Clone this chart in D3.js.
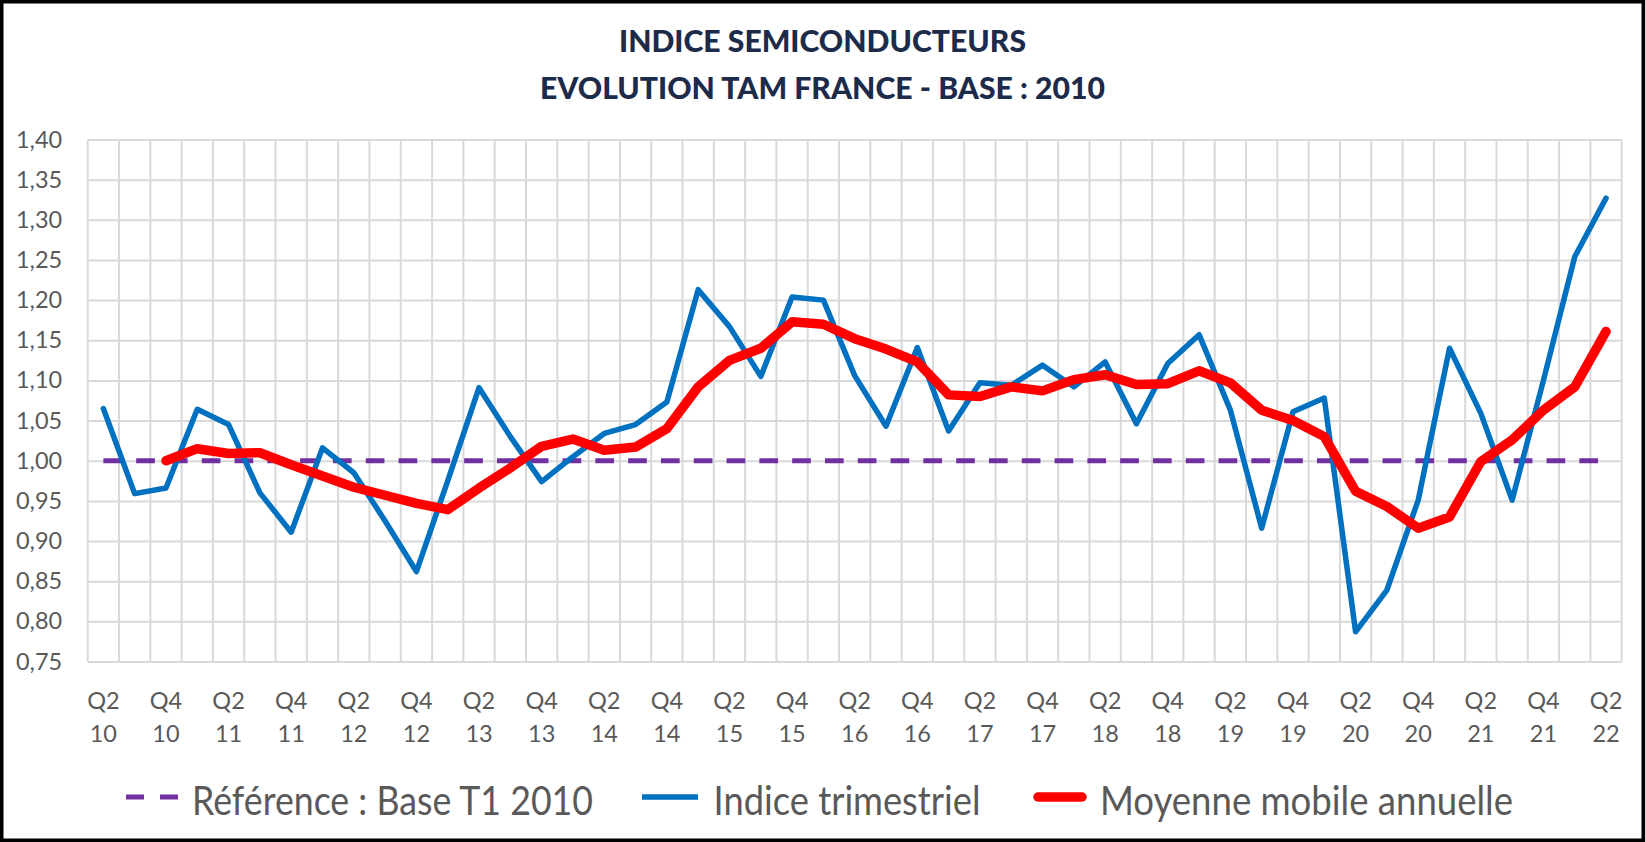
<!DOCTYPE html>
<html>
<head>
<meta charset="utf-8">
<script src="https://cdn.jsdelivr.net/npm/d3@7"></script>
<style>
  body { margin: 0; background: #fff; }
  svg { display: block; }
</style>
</head>
<body>
<div id="chart"></div>
<script>
// quarters Q2 2010 -> Q2 2022
const quarters = [
  "Q2 10", "Q3 10", "Q4 10",
  "Q1 11", "Q2 11", "Q3 11", "Q4 11",
  "Q1 12", "Q2 12", "Q3 12", "Q4 12",
  "Q1 13", "Q2 13", "Q3 13", "Q4 13",
  "Q1 14", "Q2 14", "Q3 14", "Q4 14",
  "Q1 15", "Q2 15", "Q3 15", "Q4 15",
  "Q1 16", "Q2 16", "Q3 16", "Q4 16",
  "Q1 17", "Q2 17", "Q3 17", "Q4 17",
  "Q1 18", "Q2 18", "Q3 18", "Q4 18",
  "Q1 19", "Q2 19", "Q3 19", "Q4 19",
  "Q1 20", "Q2 20", "Q3 20", "Q4 20",
  "Q1 21", "Q2 21", "Q3 21", "Q4 21",
  "Q1 22", "Q2 22"
];

const indiceTrimestriel = [
  1.065, 0.959, 0.966,
  1.064, 1.045, 0.960, 0.911,
  1.016, 0.985, 0.925, 0.862,
  0.975, 1.091, 1.030, 0.974,
  1.005, 1.034, 1.045, 1.073,
  1.213, 1.167, 1.105, 1.204,
  1.200, 1.106, 1.043, 1.141,
  1.037, 1.097, 1.094, 1.119,
  1.092, 1.123, 1.046, 1.121,
  1.157, 1.063, 0.916, 1.061,
  1.078, 0.787, 0.839, 0.951,
  1.140, 1.059, 0.951, 1.100,
  1.254, 1.327
];

// annual moving average starts at Q4 10
const moyenneMobile = [
  null, null, 1.000,
  1.015, 1.009, 1.010, 0.995,
  0.981, 0.967, 0.957, 0.947,
  0.939, 0.966, 0.991, 1.018,
  1.027, 1.013, 1.017, 1.040,
  1.092, 1.125, 1.140, 1.173,
  1.170, 1.152, 1.139, 1.123,
  1.082, 1.080, 1.092, 1.087,
  1.101, 1.107, 1.095, 1.096,
  1.112, 1.097, 1.063, 1.050,
  1.030, 0.962, 0.943, 0.916,
  0.930, 0.999, 1.026, 1.063,
  1.092, 1.161
];

const referenceLevel = 1.00;

const yTicks = [0.75, 0.80, 0.85, 0.90, 0.95, 1.00, 1.05, 1.10, 1.15, 1.20, 1.25, 1.30, 1.35, 1.40];

const titleLines = ["INDICE SEMICONDUCTEURS", "EVOLUTION TAM FRANCE - BASE : 2010"];
const legendLabels = ["Référence : Base T1 2010", "Indice trimestriel", "Moyenne mobile annuelle"];

const width = 1645, height = 842;
const plotLeft = 87.7, plotRight = 1621.7, plotTop = 139.5, plotBottom = 661.5;
const grey = "#595959";
const font = "Lato, 'Open Sans', sans-serif";

const svg = d3.select("#chart").append("svg")
  .attr("width", width)
  .attr("height", height);

svg.append("rect")
  .attr("width", width)
  .attr("height", height)
  .attr("fill", "#fff");

const x = d3.scaleBand().domain(quarters).range([plotLeft, plotRight]).padding(0);
const y = d3.scaleLinear().domain([0.75, 1.40]).range([plotBottom, plotTop]);
const cx = d => x(d) + x.bandwidth() / 2;

const fr = d3.formatLocale({decimal: ",", thousands: " ", grouping: [3], currency: ["", " €"]});
const fmt = fr.format(".2f");

// horizontal grid
const hgrid = svg.append("g")
  .attr("transform", `translate(${plotLeft},0)`)
  .call(d3.axisLeft(y).tickValues(yTicks).tickSize(-(plotRight - plotLeft)).tickFormat(""));
hgrid.select(".domain").remove();
hgrid.selectAll("line").attr("stroke", "#d9d9d9").attr("stroke-width", 2);

// vertical grid, one line between each quarter
const edges = quarters.map(q => x(q)).concat([x.range()[1]]);
svg.append("g").selectAll("line")
  .data(edges)
  .join("line")
  .attr("x1", d => d).attr("x2", d => d)
  .attr("y1", plotTop).attr("y2", plotBottom)
  .attr("stroke", "#d9d9d9")
  .attr("stroke-width", 2);

// y axis labels
const yAxis = svg.append("g")
  .attr("transform", `translate(${plotLeft},0)`)
  .call(d3.axisLeft(y).tickValues(yTicks).tickFormat(fmt).tickSize(0).tickPadding(25.5));
yAxis.select(".domain").remove();
yAxis.selectAll("text")
  .attr("font-family", font)
  .attr("font-size", 23.5)
  .attr("fill", grey);

// x axis labels, every second quarter, on two lines
const xAxis = svg.append("g")
  .attr("transform", `translate(0,${plotBottom})`)
  .call(d3.axisBottom(x).tickValues(quarters.filter((d, i) => i % 2 === 0)).tickSize(0));
xAxis.select(".domain").remove();
xAxis.selectAll("text").each(function(d) {
  const parts = d.split(" ");
  const t = d3.select(this).text(null).attr("y", null).attr("dy", null)
    .attr("font-family", font)
    .attr("font-size", 23.5)
    .attr("fill", grey);
  t.append("tspan").attr("x", 0).attr("y", 47).text(parts[0]);
  t.append("tspan").attr("x", 0).attr("y", 80.5).text(parts[1]);
});

// reference line
svg.append("line")
  .attr("x1", cx(quarters[0]))
  .attr("x2", cx(quarters[quarters.length - 1]))
  .attr("y1", y(referenceLevel))
  .attr("y2", y(referenceLevel))
  .attr("stroke", "#7030a0")
  .attr("stroke-width", 5)
  .attr("stroke-dasharray", "18.7,14.1");

const line = d3.line()
  .defined(d => d[1] != null)
  .x(d => cx(d[0]))
  .y(d => y(d[1]));

svg.append("path")
  .datum(quarters.map((q, i) => [q, indiceTrimestriel[i]]))
  .attr("d", line)
  .attr("fill", "none")
  .attr("stroke", "#0070c0")
  .attr("stroke-width", 5.5)
  .attr("stroke-linejoin", "round")
  .attr("stroke-linecap", "round");

svg.append("path")
  .datum(quarters.map((q, i) => [q, moyenneMobile[i]]))
  .attr("d", line)
  .attr("fill", "none")
  .attr("stroke", "#ff0000")
  .attr("stroke-width", 9.5)
  .attr("stroke-linejoin", "round")
  .attr("stroke-linecap", "round");

// title
svg.append("g").selectAll("text")
  .data(titleLines)
  .join("text")
  .attr("x", 822.5)
  .attr("y", (d, i) => i === 0 ? 52 : 98.5)
  .attr("text-anchor", "middle")
  .attr("font-family", font)
  .attr("font-weight", 900)
  .attr("font-size", 29.5)
  .attr("fill", "#1c2b4a")
  .attr("textLength", (d, i) => i === 0 ? 407 : 565)
  .attr("lengthAdjust", "spacingAndGlyphs")
  .text(d => d);

// legend
const legendY = 797;
const legendItems = [
  {label: legendLabels[0], color: "#7030a0", w: 5, dash: "18,16", cap: "butt", x0: 126, x1: 178, tx: 192, tl: 401},
  {label: legendLabels[1], color: "#0070c0", w: 5.5, dash: null, cap: "butt", x0: 642, x1: 698, tx: 713.5, tl: 267},
  {label: legendLabels[2], color: "#ff0000", w: 9.5, dash: null, cap: "round", x0: 1038, x1: 1082, tx: 1100, tl: 413}
];
const lg = svg.append("g").selectAll("g")
  .data(legendItems)
  .join("g");
lg.append("line")
  .attr("x1", d => d.x0).attr("x2", d => d.x1)
  .attr("y1", legendY).attr("y2", legendY)
  .attr("stroke", d => d.color)
  .attr("stroke-width", d => d.w)
  .attr("stroke-linecap", d => d.cap)
  .attr("stroke-dasharray", d => d.dash);
lg.append("text")
  .attr("x", d => d.tx)
  .attr("y", 815)
  .attr("font-family", font)
  .attr("font-size", 41)
  .attr("fill", grey)
  .attr("textLength", d => d.tl)
  .attr("lengthAdjust", "spacingAndGlyphs")
  .text(d => d.label);

// black frame around the picture
svg.append("rect")
  .attr("x", 1.75).attr("y", 1.75)
  .attr("width", width - 3.5).attr("height", height - 3.5)
  .attr("fill", "none")
  .attr("stroke", "#000")
  .attr("stroke-width", 3.5);
</script>
</body>
</html>
